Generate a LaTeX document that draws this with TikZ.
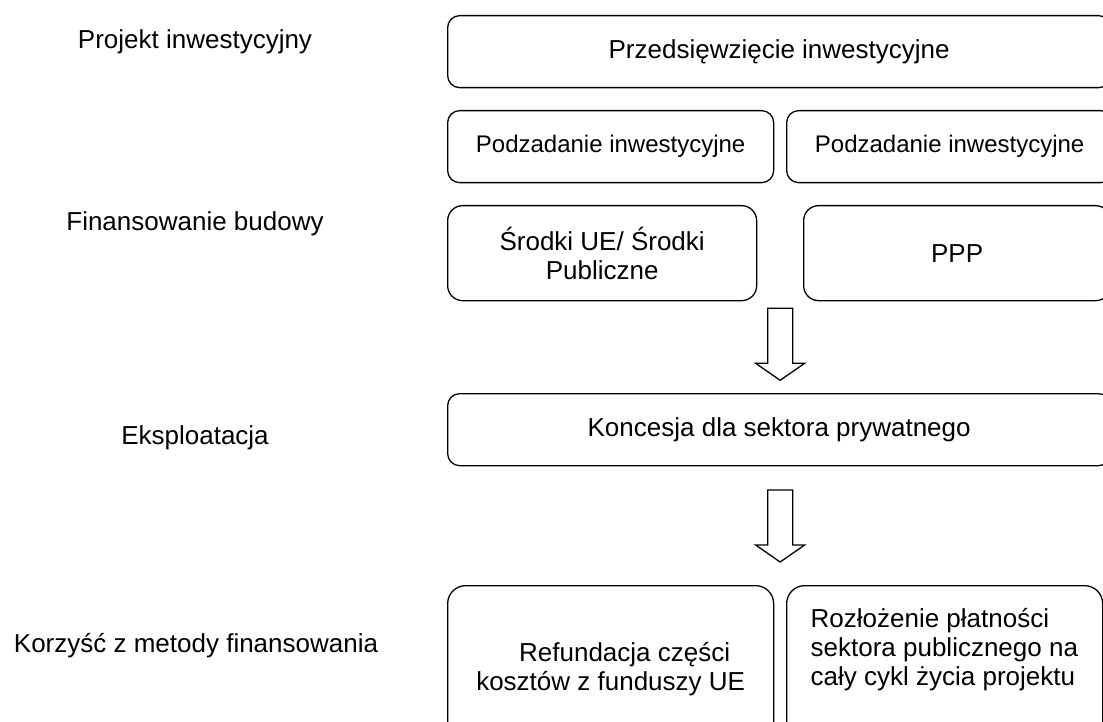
\documentclass[tikz,border=0pt]{standalone}
\usepackage{fontspec}
\setmainfont{Liberation Sans}
\usetikzlibrary{calc}
\tikzset{
  every picture/.style={font=\fontsize{26}{29}\selectfont},
  box/.style={draw,line width=1.3pt,rounded corners=12pt,inner sep=0pt,align=center,anchor=north west},
  tallbox/.style={box,rounded corners=15pt},
  lowbox/.style={box,rounded corners=18pt},
  subtask/.style={box,font=\fontsize{24}{28}\selectfont},
  rowlabel/.style={anchor=base},
  blockdown/.pic={
    \draw[line width=1.3pt,line join=miter]
      (-12.5,0) -- (-12.5,55) -- (-24.5,55) -- (0,72) -- (24.5,55) -- (12.5,55) -- (12.5,0) -- cycle;
  },
}

\begin{document}
\begin{tikzpicture}[x=1pt,y=-1pt]
  \path[use as bounding box,clip] (0,0) rectangle (1103,722);
  % row labels
  \node[rowlabel] (lproj) at (195,49) {Projekt inwestycyjny};
  \node[rowlabel] (lfin) at (195,231) {Finansowanie budowy};
  \node[rowlabel] (leks) at (195,444) {Eksploatacja};
  \node[rowlabel] (lkor) at (196,652) {Korzyść z metody finansowania};
  % boxes
  \node[box,minimum width=663pt,minimum height=72pt] (inw) at (447,15) {Przedsięwzięcie inwestycyjne};
  \node[subtask,minimum width=326pt,minimum height=72pt] (pod1) at (447,110) {Podzadanie inwestycyjne};
  \node[subtask,minimum width=326pt,minimum height=72pt] (pod2) at (786,110) {Podzadanie inwestycyjne};
  \node[tallbox,minimum width=309pt,minimum height=95pt] (sr) at (447,205) {Środki UE/ Środki\\Publiczne};
  \node[tallbox,minimum width=307pt,minimum height=95pt] (ppp) at (803,205) {PPP};
  \node[box,minimum width=663pt,minimum height=72pt] (kon) at (447,393) {Koncesja dla sektora prywatnego};
  \node[lowbox,minimum width=326pt,minimum height=166pt] (ref) at (447,585)
    {\hspace*{28pt}Refundacja części\\kosztów z funduszy UE};
  \node[lowbox,minimum width=316pt,minimum height=166pt] (roz) at (786,585)
    {\parbox[c][166pt][t]{268pt}{\raggedright\vspace*{23pt}Rozłożenie płatności\\sektora publicznego na\\cały cykl życia projektu}};
  % block arrows
  \pic at ($(sr.south east)!0.5!(ppp.south west)+(0,7)$) {blockdown};
  \pic at ($(ref.north east)!0.5!(roz.north west)+(0,-95)$) {blockdown};
\end{tikzpicture}
\end{document}
